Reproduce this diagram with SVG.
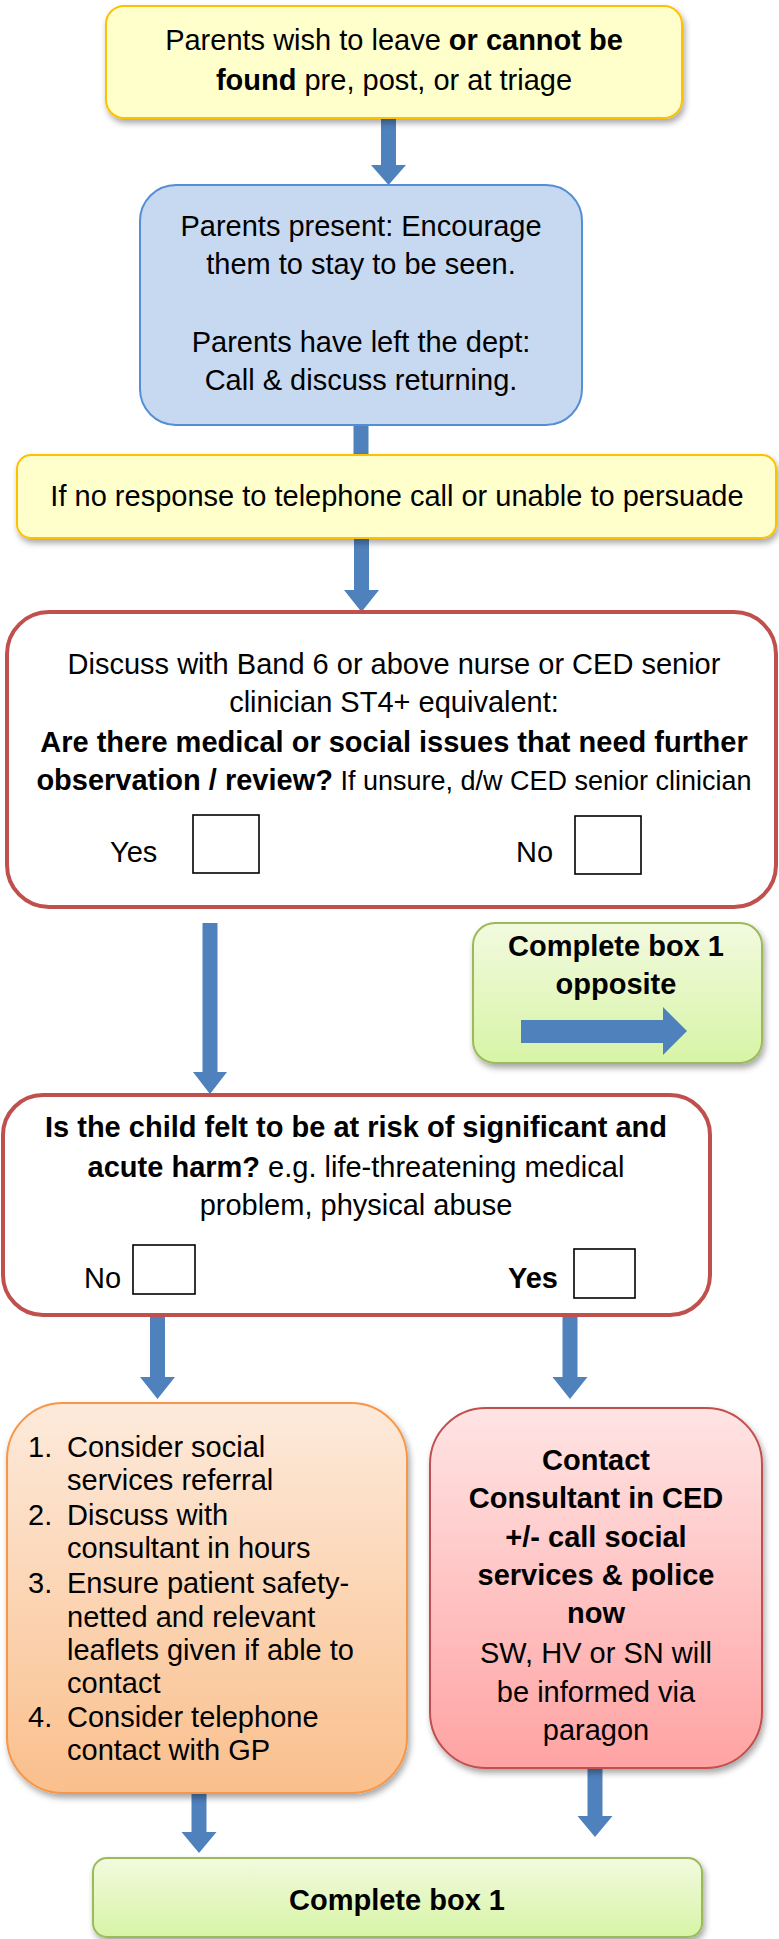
<svg xmlns="http://www.w3.org/2000/svg" width="779" height="1939" viewBox="0 0 779 1939">
<defs>
<filter id="sh" x="-10%" y="-10%" width="125%" height="130%">
<feDropShadow dx="2" dy="4" stdDeviation="3" flood-color="#000" flood-opacity="0.35"/>
</filter>
<linearGradient id="gGreen" x1="0" y1="0" x2="0" y2="1"><stop offset="0" stop-color="#F2FADF"/><stop offset="1" stop-color="#D7F4A6"/></linearGradient>
<linearGradient id="gOrange" x1="0" y1="0" x2="0" y2="1"><stop offset="0" stop-color="#FDEADB"/><stop offset="1" stop-color="#FABF8C"/></linearGradient>
<linearGradient id="gPink" x1="0" y1="0" x2="0" y2="1"><stop offset="0" stop-color="#FFE4E4"/><stop offset="1" stop-color="#FFA3A3"/></linearGradient>
</defs>
<style>
text{font-family:"Liberation Sans",Arial,sans-serif;font-size:29px;fill:#000}
.c{text-anchor:middle}
.b{font-weight:bold}
.yel{fill:#FFFFCC;stroke:#FFC000;stroke-width:2}
.blu{fill:#C6D9F1;stroke:#558ED5;stroke-width:2}
.red{fill:#FFFFFF;stroke:#C0504D;stroke-width:4}
.grn{fill:url(#gGreen);stroke:#9BBB59;stroke-width:2}
.org{fill:url(#gOrange);stroke:#F79646;stroke-width:2}
.pnk{fill:url(#gPink);stroke:#C0504D;stroke-width:2}
.chk{fill:#FFFFFF;stroke:#000;stroke-width:1.6}
.arr{fill:#4F81BD}
</style>

<g id="connectors">
<polygon class="arr" points="381,118 396,118 396,165 406,165 388.5,185 371,165 381,165"/>
<polygon class="arr" points="353.5,424 368.5,424 368.5,457 353.5,457"/>
<polygon class="arr" points="354,538 369,538 369,590 379,590 361.5,612 344,590 354,590"/>
<polygon class="arr" points="202.5,923 217.5,923 217.5,1072 227,1072 210,1094 193,1072 202.5,1072"/>
<polygon class="arr" points="150,1315 165,1315 165,1377 175,1377 157.5,1399 140,1377 150,1377"/>
<polygon class="arr" points="562.5,1315 577.5,1315 577.5,1377 587.5,1377 570,1399 552.5,1377 562.5,1377"/>
<polygon class="arr" points="191.5,1794 206.5,1794 206.5,1832 216.5,1832 199,1853 181.5,1832 191.5,1832"/>
<polygon class="arr" points="587.5,1769 602.5,1769 602.5,1816 612.5,1816 595,1837 577.5,1816 587.5,1816"/>
</g>

<g id="n1">
<rect class="yel" x="106" y="6" width="576" height="112" rx="18" filter="url(#sh)"/>
<text class="c" x="394" y="50">Parents wish to leave <tspan class="b">or cannot be</tspan></text>
<text class="c" x="394" y="90"><tspan class="b">found</tspan> pre, post, or at triage</text>
</g>

<g id="n2">
<rect class="blu" x="140" y="185" width="442" height="240" rx="36"/>
<text class="c" x="361" y="236">Parents present: Encourage</text>
<text class="c" x="361" y="274">them to stay to be seen.</text>
<text class="c" x="361" y="352">Parents have left the dept:</text>
<text class="c" x="361" y="390">Call &amp; discuss returning.</text>
</g>

<g id="n3">
<rect class="yel" x="17" y="455" width="759" height="83" rx="14" filter="url(#sh)"/>
<text class="c" x="397" y="506">If no response to telephone call or unable to persuade</text>
</g>

<g id="n4">
<rect class="red" x="7" y="612" width="769" height="295" rx="42"/>
<text class="c" x="394" y="674">Discuss with Band 6 or above nurse or CED senior</text>
<text class="c" x="394" y="712">clinician ST4+ equivalent:</text>
<text class="c b" x="394" y="752">Are there medical or social issues that need further</text>
<text class="c" x="394" y="790"><tspan class="b">observation / review?</tspan><tspan font-size="27"> If unsure, d/w CED senior clinician</tspan></text>
<text x="110" y="862">Yes</text>
<rect class="chk" x="193" y="815" width="66" height="58"/>
<text x="516" y="862">No</text>
<rect class="chk" x="575" y="816" width="66" height="58"/>
</g>

<g id="n4b">
<rect class="grn" x="473" y="923" width="289" height="140" rx="22" filter="url(#sh)"/>
<text class="c b" x="616" y="956">Complete box 1</text>
<text class="c b" x="616" y="994">opposite</text>
<polygon class="arr" points="521,1020 663,1020 663,1007 687,1031 663,1055 663,1043 521,1043"/>
</g>

<g id="n5">
<rect class="red" x="3" y="1095" width="707" height="220" rx="40"/>
<text class="c b" x="356" y="1137">Is the child felt to be at risk of significant and</text>
<text class="c" x="356" y="1177"><tspan class="b">acute harm?</tspan> e.g. life-threatening medical</text>
<text class="c" x="356" y="1215">problem, physical abuse</text>
<text x="84" y="1288">No</text>
<rect class="chk" x="133" y="1245" width="62" height="49"/>
<text class="b" x="508" y="1288">Yes</text>
<rect class="chk" x="574" y="1249" width="61" height="49"/>
</g>

<g id="n6">
<rect class="org" x="7" y="1403" width="400" height="390" rx="56" filter="url(#sh)"/>
<text x="28" y="1457">1.</text><text x="67" y="1457">Consider social</text>
<text x="67" y="1490">services referral</text>
<text x="28" y="1525">2.</text><text x="67" y="1525">Discuss with</text>
<text x="67" y="1558">consultant in hours</text>
<text x="28" y="1593">3.</text><text x="67" y="1593">Ensure patient safety-</text>
<text x="67" y="1627">netted and relevant</text>
<text x="67" y="1660">leaflets given if able to</text>
<text x="67" y="1693">contact</text>
<text x="28" y="1727">4.</text><text x="67" y="1727">Consider telephone</text>
<text x="67" y="1760">contact with GP</text>
</g>

<g id="n7">
<rect class="pnk" x="430" y="1408" width="332" height="360" rx="56" filter="url(#sh)"/>
<text class="c b" x="596" y="1470">Contact</text>
<text class="c b" x="596" y="1508">Consultant in CED</text>
<text class="c b" x="596" y="1547">+/- call social</text>
<text class="c b" x="596" y="1585">services &amp; police</text>
<text class="c b" x="596" y="1623">now</text>
<text class="c" x="596" y="1663">SW, HV or SN will</text>
<text class="c" x="596" y="1702">be informed via</text>
<text class="c" x="596" y="1740">paragon</text>
</g>

<g id="n8">
<rect class="grn" x="93" y="1858" width="609" height="79" rx="14" filter="url(#sh)"/>
<text class="c b" x="397" y="1910">Complete box 1</text>
</g>
</svg>
